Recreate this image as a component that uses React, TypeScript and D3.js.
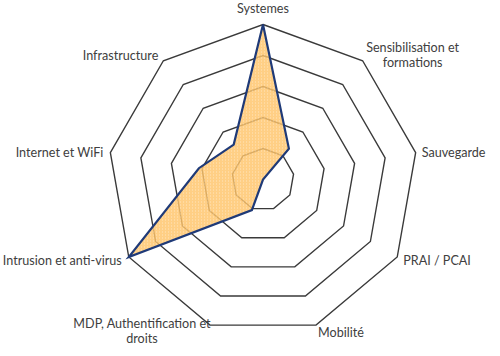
import React from "react";
import * as d3 from "d3";

const categories = [
  "Systemes",
  "Sensibilisation et formations",
  "Sauvegarde",
  "PRAI / PCAI",
  "Mobilité",
  "MDP, Authentification et droits",
  "Intrusion et anti-virus",
  "Internet et WiFi",
  "Infrastructure",
];
const values = [5, 1.3, 0, 0, 0, 1.05, 5, 2.1, 1.47];
const ringTicks = [1, 2, 3, 4, 5];

// label layout (styling only): lines, offset from outer vertex, anchor
const labelLayout: { lines: string[]; dx: number; dy: number[]; anchor: string }[] = [
  { lines: ["Systemes"], dx: 0, dy: [-16], anchor: "middle" },
  { lines: ["Sensibilisation et", "formations"], dx: 50, dy: [-13, 2], anchor: "middle" },
  { lines: ["Sauvegarde"], dx: 6, dy: [0], anchor: "start" },
  { lines: ["PRAI / PCAI"], dx: 6, dy: [3], anchor: "start" },
  { lines: ["Mobilité"], dx: 2, dy: [7], anchor: "start" },
  { lines: ["MDP, Authentification et", "droits"], dx: -68, dy: [-2, 13], anchor: "middle" },
  { lines: ["Intrusion et anti-virus"], dx: -7, dy: [3], anchor: "end" },
  { lines: ["Internet et WiFi"], dx: -7, dy: [0], anchor: "end" },
  { lines: ["Infrastructure"], dx: -5, dy: [-5], anchor: "end" },
];

export default function App() {
  const W = 500, H = 356;
  const cx = 263, cy = 179.5, R = 155;
  const n = categories.length;
  const r = d3.scaleLinear().domain([0, 5]).range([0, R]);
  const angle = (i: number) => (i * 2 * Math.PI) / n;
  const line = d3
    .lineRadial<number>()
    .angle((_, i) => angle(i))
    .radius((d) => r(d))
    .curve(d3.curveLinearClosed);
  const ring = (v: number) => line(categories.map(() => v)) as string;
  const outer = categories.map((_, i) => {
    const a = angle(i) - Math.PI / 2;
    return [cx + R * Math.cos(a), cy + R * Math.sin(a)];
  });

  return (
    <svg width={W} height={H} style={{ position: "absolute", left: 0, top: 0, background: "#fff" }}>
      <defs>
        <pattern id="dots" width="3" height="3" patternUnits="userSpaceOnUse">
          <rect width="3" height="3" fill="#FFC46A" />
          <rect x="1" y="1" width="1" height="1" fill="#FFE0AE" />
        </pattern>
      </defs>
      <g transform={`translate(${cx},${cy})`}>
        {ringTicks.map((t) => (
          <path key={t} d={ring(t)} fill="none" stroke="#3a3a3a" strokeWidth={1.4} />
        ))}
        <path d={line(values) as string} fill="url(#dots)" fillOpacity={0.82} stroke="none" />
        <path d={line(values) as string} fill="none" stroke="#1F3A78" strokeWidth={2.2} strokeLinejoin="miter" />
      </g>
      {labelLayout.map((lab, i) => (
        <text
          key={i}
          textAnchor={lab.anchor}
          fontFamily="Lato, 'Open Sans', sans-serif"
          fontSize={12.6}
          fill="#404040"
        >
          {lab.lines.map((l, j) => (
            <tspan key={j} x={outer[i][0] + lab.dx} y={outer[i][1] + lab.dy[j]} dominantBaseline="central">
              {l}
            </tspan>
          ))}
        </text>
      ))}
    </svg>
  );
}
